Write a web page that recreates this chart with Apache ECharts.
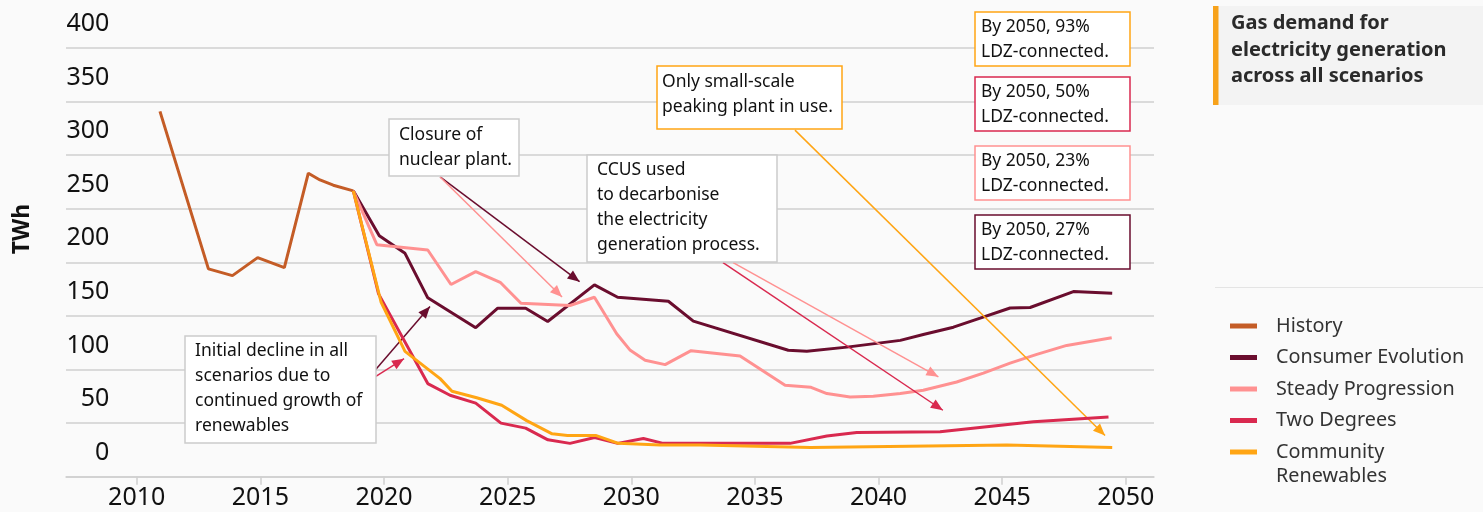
<!DOCTYPE html>
<html><head><meta charset="utf-8">
<script src="https://cdn.jsdelivr.net/npm/echarts@6/dist/echarts.min.js"></script>
<style>html,body{margin:0;padding:0;background:#fafafa}#c{width:1483px;height:512px}</style>
</head><body><div id="c"></div>
<script>
const FONT = '"Noto Sans", "Open Sans", sans-serif';
const xTicks = [2010, 2015, 2020, 2025, 2030, 2035, 2040, 2045, 2050];
const seriesNames = ['History', 'Consumer Evolution', 'Steady Progression', 'Two Degrees', 'Community Renewables'];
const seriesColors = ['#c45c26', '#6a0d2e', '#ff9191', '#d9294f', '#ffa514'];

const historyYears  = [2010.94, 2012.90, 2013.87, 2014.89, 2015.97, 2016.94, 2017.41, 2017.95, 2018.76];
const historyValues = [340.9, 193.9, 187.6, 204.4, 195.1, 283.2, 276.9, 272.0, 266.7];

const consumerYears  = [2018.76, 2019.81, 2020.85, 2021.77, 2023.71, 2024.60, 2025.73, 2026.62, 2028.51, 2029.45, 2031.50, 2032.51, 2036.35, 2037.10, 2038.72, 2040.88, 2041.81, 2043.03, 2044.11, 2045.32, 2046.13, 2047.88, 2049.45];
const consumerValues = [266.7, 224.8, 208.4, 166.9, 139.0, 157.2, 157.2, 144.8, 179.0, 167.4, 163.7, 145.1, 118.0, 117.0, 120.9, 127.2, 132.7, 139.5, 147.9, 157.4, 157.9, 172.7, 171.2];

const steadyYears  = [2018.76, 2019.71, 2021.77, 2022.71, 2023.71, 2024.70, 2025.54, 2027.52, 2028.51, 2029.41, 2029.96, 2030.56, 2031.37, 2032.42, 2034.40, 2036.22, 2037.27, 2037.91, 2038.85, 2039.79, 2040.88, 2041.81, 2043.16, 2044.24, 2045.32, 2046.40, 2047.61, 2049.43];
const steadyValues = [266.7, 216.5, 211.5, 179.3, 191.3, 181.4, 161.9, 159.7, 167.4, 133.4, 117.9, 108.6, 104.6, 117.6, 112.6, 85.3, 83.4, 77.6, 74.4, 75.1, 77.6, 80.7, 88.4, 96.7, 106.0, 114.1, 122.5, 129.7];

const twoDegYears  = [2018.76, 2019.78, 2021.77, 2022.67, 2023.71, 2024.73, 2025.73, 2026.63, 2027.52, 2028.52, 2029.45, 2030.49, 2031.29, 2036.42, 2037.91, 2039.12, 2042.49, 2045.32, 2046.26, 2049.30];
const twoDegValues = [266.7, 170.6, 86.9, 76.0, 68.6, 50.0, 45.3, 34.4, 31.1, 36.5, 31.1, 35.7, 31.1, 31.1, 37.9, 41.3, 42.0, 49.0, 51.2, 55.8];

const communityYears  = [2018.76, 2019.88, 2020.85, 2022.27, 2022.75, 2023.75, 2024.76, 2025.77, 2026.80, 2027.42, 2028.56, 2029.48, 2031.17, 2032.80, 2037.25, 2045.19, 2049.45];
const communityValues = [266.7, 163.0, 116.9, 91.5, 79.7, 73.7, 66.7, 52.3, 40.0, 38.5, 38.5, 31.1, 29.5, 29.5, 27.3, 29.5, 27.3];

// annotation arrows in data coordinates: [x1, y1, x2, y2, color]
const arrows = [
  [2022.27, 279.7, 2027.91, 182.0, '#6a0d2e'],
  [2022.27, 279.7, 2027.20, 167.6, '#ff9191'],
  [2019.64, 99.3, 2021.86, 158.8, '#6a0d2e'],
  [2019.64, 93.2, 2020.81, 110.1, '#d9294f'],
  [2034.12, 199.7, 2042.42, 93.2, '#ff9191'],
  [2033.71, 199.7, 2042.60, 62.0, '#d9294f'],
  [2036.62, 323.4, 2049.16, 38.4, '#ffa514']
];

const allYears = [historyYears, consumerYears, steadyYears, twoDegYears, communityYears];
const allValues = [historyValues, consumerValues, steadyValues, twoDegValues, communityValues];

const ARROW = 'path://M5,0 L5,0.01 M5,10 L10,20 L0,20 Z';
const LEGEND_ICON = 'path://M0,0 L27,0 L27,5 L0,5 Z M41,0 L41,0.01';

function box(x, y, w, h, color, lines, tx, ty) {
  return {
    type: 'group', z: 100,
    children: [
      { type: 'rect', shape: { x: x, y: y, width: w, height: h }, style: { fill: '#ffffff', stroke: color, lineWidth: 1.5 }, z: 100 },
      { type: 'text', x: tx, y: ty, z: 101, style: { text: lines.join('\n'), font: '17.5px ' + FONT, lineHeight: 25, fill: '#111', verticalAlign: 'top' } }
    ]
  };
}

const chart = echarts.init(document.getElementById('c'), null, { renderer: 'canvas' });

const series = seriesNames.map((n, i) => ({
  name: n, type: 'line', symbol: 'none', z: 2 + i,
  lineStyle: { width: 3, color: seriesColors[i] },
  itemStyle: { color: seriesColors[i] },
  data: allYears[i].map((yr, j) => [yr, allValues[i][j]])
}));
series.push({
  name: '_arrows', type: 'line', data: [], silent: true, z: 20,
  markLine: {
    silent: true, animation: false, symbol: ['none', ARROW], symbolSize: [10, 24],
    label: { show: false },
    data: arrows.map(a => [
      { coord: [a[0], a[1]], lineStyle: { color: a[4], width: 1.5, type: 'solid' }, itemStyle: { color: a[4] } },
      { coord: [a[2], a[3]] }
    ])
  }
});

const legendBase = {
  orient: 'vertical', left: 1230, padding: 0,
  itemWidth: 41, itemHeight: 5, itemGap: 7.5,
  icon: LEGEND_ICON,
  textStyle: { fontFamily: FONT, fontSize: 19.8, color: '#333', lineHeight: 24 }
};

chart.setOption({
  backgroundColor: '#fafafa',
  animation: false,
  grid: { left: 66, right: 329, top: 46.7, bottom: 35.3, containLabel: false },
  xAxis: {
    type: 'value', min: 2007.14, max: 2051.14,
    splitLine: { show: false },
    axisLine: { show: true, lineStyle: { color: '#cfcfcf', width: 1.5 } },
    axisTick: { show: true, customValues: xTicks, length: 8, lineStyle: { color: '#cfcfcf', width: 1.5 } },
    axisLabel: { customValues: xTicks, formatter: v => String(Math.round(v)), fontFamily: FONT, fontSize: 25, color: '#111', margin: 9 }
  },
  yAxis: {
    type: 'value', min: 0, max: 400, interval: 50, offset: -43.3,
    axisLine: { show: false }, axisTick: { show: false },
    splitLine: { show: true, lineStyle: { color: '#cfcfcf', width: 1.5 } },
    axisLabel: { fontFamily: FONT, fontSize: 25, color: '#111', margin: 0, verticalAlign: 'bottom', lineHeight: 48 }
  },
  legend: [
    Object.assign({}, legendBase, { top: 314, data: seriesNames.slice(0, 4) }),
    Object.assign({}, legendBase, {
      top: 416,
      formatter: () => '\nCommunity\nRenewables',
      data: [seriesNames[4]]
    })
  ],
  graphic: [
    { type: 'rect', z: 100, shape: { x: 1213, y: 6, width: 270, height: 99 }, style: { fill: '#f3f3f3' } },
    { type: 'rect', z: 101, shape: { x: 1213, y: 6, width: 5.5, height: 99 }, style: { fill: '#f7a21b' } },
    { type: 'text', z: 101, x: 1231, y: 10.5, style: { text: 'Gas demand for\nelectricity generation\nacross all scenarios', font: 'bold 20px ' + FONT, lineHeight: 26.3, fill: '#2a2a2a', verticalAlign: 'top' } },
    { type: 'line', z: 100, shape: { x1: 1215, y1: 287.5, x2: 1483, y2: 287.5 }, style: { stroke: '#e4e4e4', lineWidth: 1 } },
    { type: 'text', z: 100, x: 22, y: 229, rotation: Math.PI / 2, style: { text: 'TWh', font: 'bold 23px ' + FONT, fill: '#111', align: 'center', verticalAlign: 'middle' } },
    box(389, 119, 130, 57, '#cccccc', ['Closure of', 'nuclear plant.'], 399, 122.5),
    box(587, 155, 190, 107, '#cccccc', ['CCUS used', 'to decarbonise', 'the electricity', 'generation process.'], 597, 157.5),
    box(657, 66, 185, 63, '#ffa514', ['Only small-scale', 'peaking plant in use.'], 662, 70),
    box(185, 336, 191, 107, '#cccccc', ['Initial decline in all', 'scenarios due to', 'continued growth of', 'renewables'], 195, 339),
    box(975, 12, 155, 54, '#ffa514', ['By 2050, 93%', 'LDZ-connected.'], 981, 14.2),
    box(975, 77, 155, 54, '#d9294f', ['By 2050, 50%', 'LDZ-connected.'], 981, 79.2),
    box(975, 146, 155, 54, '#ff9191', ['By 2050, 23%', 'LDZ-connected.'], 981, 148.2),
    box(975, 215, 155, 54, '#6a0d2e', ['By 2050, 27%', 'LDZ-connected.'], 981, 217.2)
  ],
  series: series
});
</script>
</body></html>
